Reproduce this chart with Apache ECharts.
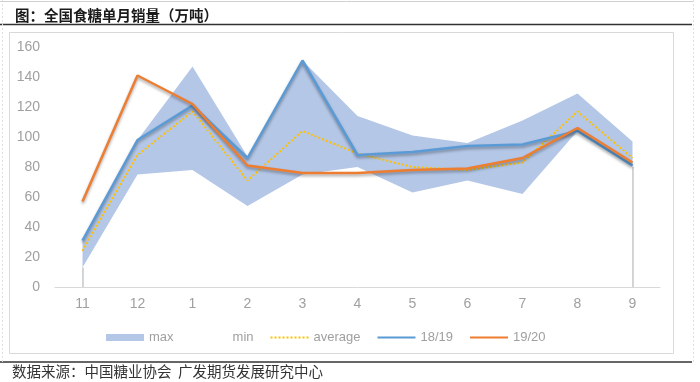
<!DOCTYPE html>
<html>
<head>
<meta charset="utf-8">
<script src="https://cdn.jsdelivr.net/npm/echarts@6/dist/echarts.min.js"></script>
<style>html,body{margin:0;padding:0;background:#fff;}#c{width:700px;height:382px;}</style>
</head>
<body>
<div id="c"></div>
<script>
var categories = ['11','12','1','2','3','4','5','6','7','8','9'];
var maxVals  = [31, 98, 147, 87, 151, 114, 101, 96, 111, 129, 97];
var minVals  = [13, 75, 78, 54, 75, 80, 63, 71, 62, 104, 80];
var avgVals  = [24, 88, 117, 71, 104, 89, 80, 78, 83, 117, 86];
var s1819    = [31, 98, 121, 86, 151, 88, 90, 94, 95, 104, 81];
var s1920    = [57, 141, 122, 81, 76, 76, 78, 79, 86, 106, 83];
var yTicks   = [0, 20, 40, 60, 80, 100, 120, 140, 160];

var chart = echarts.init(document.getElementById('c'), null, {renderer:'canvas'});
var labelColor = '#a0a0a0';
var shadow = {shadowColor:'rgba(0,0,0,0.35)', shadowBlur:3, shadowOffsetY:2};
chart.setOption({
  animation:false,
  title:{text:'图：全国食糖单月销量（万吨）', left:10, top:3,
    textStyle:{fontFamily:'Noto Sans CJK SC', fontSize:14.5, fontWeight:'bold', color:'#1a1a1a'}},
  graphic:[
    {type:'line', shape:{x1:0,y1:24.5,x2:692,y2:24.5}, style:{stroke:'#333',lineWidth:1.5}},
    {type:'rect', shape:{x:9.5,y:32.5,width:664,height:321}, style:{stroke:'#d9d9d9',fill:null,lineWidth:1}},
    {type:'line', shape:{x1:0,y1:362,x2:692,y2:362}, style:{stroke:'#333',lineWidth:1.5}},
    {type:'line', shape:{x1:2.5,y1:0,x2:2.5,y2:362}, style:{stroke:'#e0e0e0',lineWidth:1,lineDash:[2,2]}},
    {type:'line', shape:{x1:693.5,y1:0,x2:693.5,y2:362}, style:{stroke:'#e0e0e0',lineWidth:1,lineDash:[2,2]}},
    {type:'line', shape:{x1:0,y1:1.5,x2:693,y2:1.5}, style:{stroke:'#d0d0d0',lineWidth:1}},
    {type:'text', left:12, top:364, style:{text:'数据来源：中国糖业协会  广发期货发展研究中心',
      font:'14.5px "Noto Sans CJK SC"', fill:'#333'}}
  ],
  grid:{left:55, right:40, top:47, bottom:95},
  legend:{left:101, top:326, itemWidth:38, itemHeight:7, itemGap:16,
    textStyle:{color:labelColor, fontSize:13, fontFamily:'Liberation Sans'},
    data:[
      {name:'max', icon:'rect', itemStyle:{color:'#b4c7e7'}},
      {name:'min', icon:'rect', itemStyle:{color:'#ffffff'}},
      {name:'average', itemStyle:{opacity:0}},
      {name:'18/19', itemStyle:{opacity:0}},
      {name:'19/20', itemStyle:{opacity:0}}
    ]},
  xAxis:{type:'category', data:categories, boundaryGap:true, z:10,
    axisLine:{lineStyle:{color:'#d9d9d9', width:1}}, axisTick:{show:false},
    axisLabel:{color:labelColor, fontSize:14, fontFamily:'Liberation Sans', margin:10}},
  yAxis:{type:'value', min:yTicks[0], max:yTicks[yTicks.length-1], interval:20,
    axisLine:{show:false}, axisTick:{show:false}, splitLine:{show:false},
    axisLabel:{color:labelColor, fontSize:14, fontFamily:'Liberation Sans', margin:15}},
  series:[
    {name:'max', type:'line', data:maxVals, symbol:'none', color:'#b4c7e7',
      lineStyle:{width:0}, areaStyle:{color:'#b4c7e7', opacity:1}, z:2},
    {name:'min', type:'line', data:minVals, symbol:'none', color:'#ffffff',
      lineStyle:{width:0}, areaStyle:{color:'#ffffff', opacity:1}, z:3,
      markLine:{silent:true, symbol:'none', label:{show:false},
        lineStyle:{color:'#c8c8c8', width:1.5, type:'solid'},
        data:[
          [{coord:[categories[0],0]},{coord:[categories[0],minVals[0]]}],
          [{coord:[categories[categories.length-1],0]},{coord:[categories[categories.length-1],minVals[minVals.length-1]]}]
        ]}},
    {name:'average', type:'line', data:avgVals, symbol:'none', color:'#ffc000',
      lineStyle:{width:2, type:'dotted', color:'#ffc000'}, z:4},
    {name:'18/19', type:'line', data:s1819, symbol:'none', color:'#5b9bd5',
      lineStyle:Object.assign({width:2.5, color:'#5b9bd5'}, shadow), z:5},
    {name:'19/20', type:'line', data:s1920, symbol:'none', color:'#ed7d31',
      lineStyle:Object.assign({width:2.5, color:'#ed7d31'}, shadow), z:6}
  ]
});
</script>
</body>
</html>
